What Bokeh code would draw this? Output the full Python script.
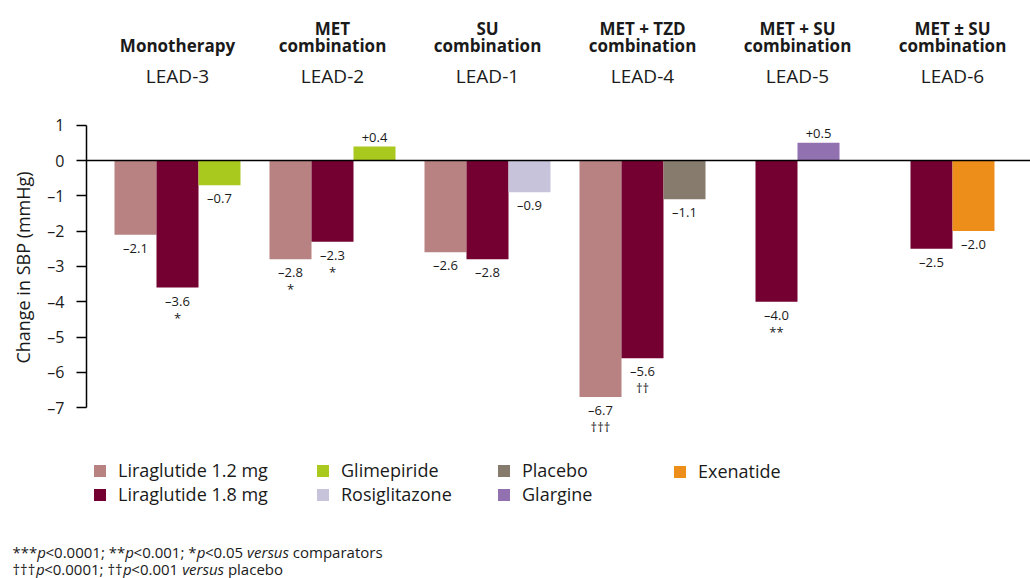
import math
from bokeh.plotting import figure
from bokeh.layouts import column
from bokeh.models import ColumnDataSource, Range1d, Span, Label, Legend, LegendItem, FixedTicker
from bokeh.embed import file_html
from bokeh.resources import INLINE
from bokeh.core.properties import value

FONT = "Open Sans"
TXT = "#1a1a1a"

# ---------------- data ----------------
header_line1 = ["", "MET", "SU", "MET + TZD", "MET + SU", "MET \u00b1 SU"]
header_line2 = ["Monotherapy", "combination", "combination", "combination", "combination", "combination"]
trials = ["LEAD-3", "LEAD-2", "LEAD-1", "LEAD-4", "LEAD-5", "LEAD-6"]

series = ["Liraglutide 1.2 mg", "Liraglutide 1.8 mg", "Glimepiride", "Rosiglitazone",
          "Placebo", "Glargine", "Exenatide"]
colors = ["#b98282", "#730030", "#a9c91e", "#c6c3da", "#877b6d", "#9271b1", "#ee8e1a"]

lira12 = [-2.1, -2.8, -2.6, -6.7, None, None]
lira18 = [-3.6, -2.3, -2.8, -5.6, -4.0, -2.5]
glimepiride = [-0.7, 0.4, None, None, None, None]
rosiglitazone = [None, None, -0.9, None, None, None]
placebo = [None, None, None, -1.1, None, None]
glargine = [None, None, None, None, 0.5, None]
exenatide = [None, None, None, None, None, -2.0]

sig_lira12 = ["", "*", "", "\u2020\u2020\u2020", "", ""]
sig_lira18 = ["*", "*", "", "\u2020\u2020", "**", ""]

yticks = [1, 0, -1, -2, -3, -4, -5, -6, -7]

values = [lira12, lira18, glimepiride, rosiglitazone, placebo, glargine, exenatide]
sigs = [sig_lira12, sig_lira18, [""] * 6, [""] * 6, [""] * 6, [""] * 6, [""] * 6]

# ---------------- layout ----------------
W = 1030
H1 = 534          # main chart
H2 = 44           # footnotes strip
LEFT = 86
PX_GROUP = 155.0
PX_UNIT = 35.3
ZERO_Y = 160.0
frame_w = W - LEFT
x_start = -91.0 / PX_GROUP
x_end = x_start + frame_w / PX_GROUP
y_end = ZERO_Y / PX_UNIT
y_start = -(H1 - ZERO_Y) / PX_UNIT
bar_w = 42.0 / PX_GROUP

p = figure(width=W, height=H1, x_range=Range1d(x_start, x_end), y_range=Range1d(y_start, y_end),
           output_backend="svg", toolbar_location=None, x_axis_location=None,
           min_border_left=LEFT, min_border_right=0, min_border_top=0, min_border_bottom=0)
p.frame_align = False
p.outline_line_color = None
p.xgrid.grid_line_color = None
p.ygrid.grid_line_color = None
p.background_fill_color = "white"
p.border_fill_color = "white"

ax = p.yaxis[0]
ax.bounds = (-7, 1)
ax.ticker = FixedTicker(ticks=yticks)
ax.major_label_overrides = {t: ("\u2013" + str(-t) if t < 0 else str(t)) for t in yticks}
ax.major_tick_out = 10
ax.major_tick_in = 0
ax.minor_tick_line_color = None
ax.axis_line_width = 1.5
ax.major_tick_line_width = 1.5
ax.axis_line_color = "black"
ax.major_tick_line_color = "black"
ax.major_label_text_font = FONT
ax.major_label_text_font_size = "16px"
ax.major_label_text_color = TXT
ax.major_label_standoff = 12
ax.axis_label = "Change in SBP (mmHg)"
ax.axis_label_text_font = FONT
ax.axis_label_text_font_size = "18px"
ax.axis_label_text_font_style = "normal"
ax.axis_label_text_color = TXT
ax.axis_label_standoff = 9

p.add_layout(Span(location=0, dimension="width", line_color="black", line_width=1.5))

# bar positions
positions = {s: [None] * 6 for s in series}
for g in range(6):
    present = [k for k in range(len(series)) if values[k][g] is not None]
    n = len(present)
    for j, k in enumerate(present):
        positions[series[k]][g] = g + (j - (n - 1) / 2.0) * bar_w

renderers = {}
lx, ly, lt, lo = [], [], [], []
sx, sy, st, so = [], [], [], []
for k, s in enumerate(series):
    xs = [positions[s][g] for g in range(6) if values[k][g] is not None]
    tops = [values[k][g] for g in range(6) if values[k][g] is not None]
    src = ColumnDataSource(dict(x=xs, top=tops))
    renderers[s] = p.vbar(x="x", top="top", bottom=0, width=bar_w, source=src,
                          fill_color=colors[k], line_color=None)
    for g in range(6):
        v = values[k][g]
        if v is None:
            continue
        lx.append(positions[s][g]); ly.append(v)
        lt.append(("+%.1f" % v) if v > 0 else ("\u2013%.1f" % abs(v)))
        lo.append(-9 if v > 0 else 13)
        if sigs[k][g]:
            sx.append(positions[s][g]); sy.append(v); st.append(sigs[k][g]); so.append(30)

p.text(x="x", y="y", text="t", y_offset="o", source=ColumnDataSource(dict(x=lx, y=ly, t=lt, o=lo)),
       text_align="center", text_baseline="middle", text_font=value(FONT),
       text_font_size="13px", text_color=TXT)
p.text(x="x", y="y", text="t", y_offset="o", source=ColumnDataSource(dict(x=sx, y=sy, t=st, o=so)),
       text_align="center", text_baseline="middle", text_font=value(FONT),
       text_font_size="13px", text_color=TXT)

# headers (screen y measured from frame bottom)
for g in range(6):
    if header_line1[g]:
        p.add_layout(Label(x=g, y=H1 - 28, x_units="data", y_units="screen", text=header_line1[g],
                           text_align="center", text_baseline="alphabetic", text_font=FONT,
                           text_font_style="bold", text_font_size="17px", text_color=TXT))
    p.add_layout(Label(x=g, y=H1 - 45, x_units="data", y_units="screen", text=header_line2[g],
                       text_align="center", text_baseline="alphabetic", text_font=FONT,
                       text_font_style="bold", text_font_size="17px", text_color=TXT))
    p.add_layout(Label(x=g, y=H1 - 75, x_units="data", y_units="screen", text=trials[g],
                       text_align="center", text_baseline="alphabetic", text_font=FONT,
                       text_font_size="19px", text_color=TXT))

# legends (4 columns)
cols = [(6, [0, 1]), (229, [2, 3]), (410, [4, 5]), (586, [6])]
for xpos, idx in cols:
    items = [LegendItem(label=series[k], renderers=[renderers[series[k]]]) for k in idx]
    lg = Legend(items=items, location=(xpos, 28 if len(idx) == 2 else 51), orientation="vertical",
                glyph_width=15, glyph_height=15, label_height=20, spacing=-1, padding=0, margin=0,
                label_standoff=11, label_text_font=FONT, label_text_font_size="18px",
                label_text_color=TXT, border_line_color=None, background_fill_alpha=0)
    p.add_layout(lg)

# footnotes strip
q = figure(width=W, height=H2, x_range=Range1d(0, 1), y_range=Range1d(0, 1),
           output_backend="svg", toolbar_location=None, x_axis_location=None, y_axis_location=None,
           min_border_left=0, min_border_right=0, min_border_top=0, min_border_bottom=0)
q.frame_align = False
q.outline_line_color = None
q.xgrid.grid_line_color = None
q.ygrid.grid_line_color = None
q.background_fill_color = "white"
q.border_fill_color = "white"

W_REG = {" ": .26, "*": .55, "<": .572, ".": .266, ";": .266, "\u2020": .52,
         "c": .476, "o": .604, "m": .93, "p": .613, "a": .556, "r": .408, "t": .353,
         "s": .477, "l": .274, "b": .613, "e": .561}
for ch in "0123456789":
    W_REG[ch] = .572
W_IT = {"p": .55, "v": .52, "e": .56, "r": .42, "s": .47, "u": .61}
FN = 15

def footnote(segments, x0, y):
    x = x0
    for txt, it in segments:
        q.add_layout(Label(x=x, y=y, x_units="screen", y_units="screen", text=txt,
                           text_align="left", text_baseline="alphabetic", text_font=FONT,
                           text_font_style="italic" if it else "normal",
                           text_font_size="%dpx" % FN, text_color=TXT))
        table = W_IT if it else W_REG
        x += sum(table.get(c, .55) for c in txt) * FN

footnote([("***", 0), ("p", 1), ("<0.0001; **", 0), ("p", 1), ("<0.001; *", 0), ("p", 1),
          ("<0.05 ", 0), ("versus", 1), (" comparators", 0)], 12, 27)
footnote([("\u2020\u2020\u2020", 0), ("p", 1), ("<0.0001; \u2020\u2020", 0), ("p", 1),
          ("<0.001 ", 0), ("versus", 1), (" placebo", 0)], 12, 10)

layout = column(p, q, spacing=0)
open("out.html", "w").write(file_html(layout, INLINE))
